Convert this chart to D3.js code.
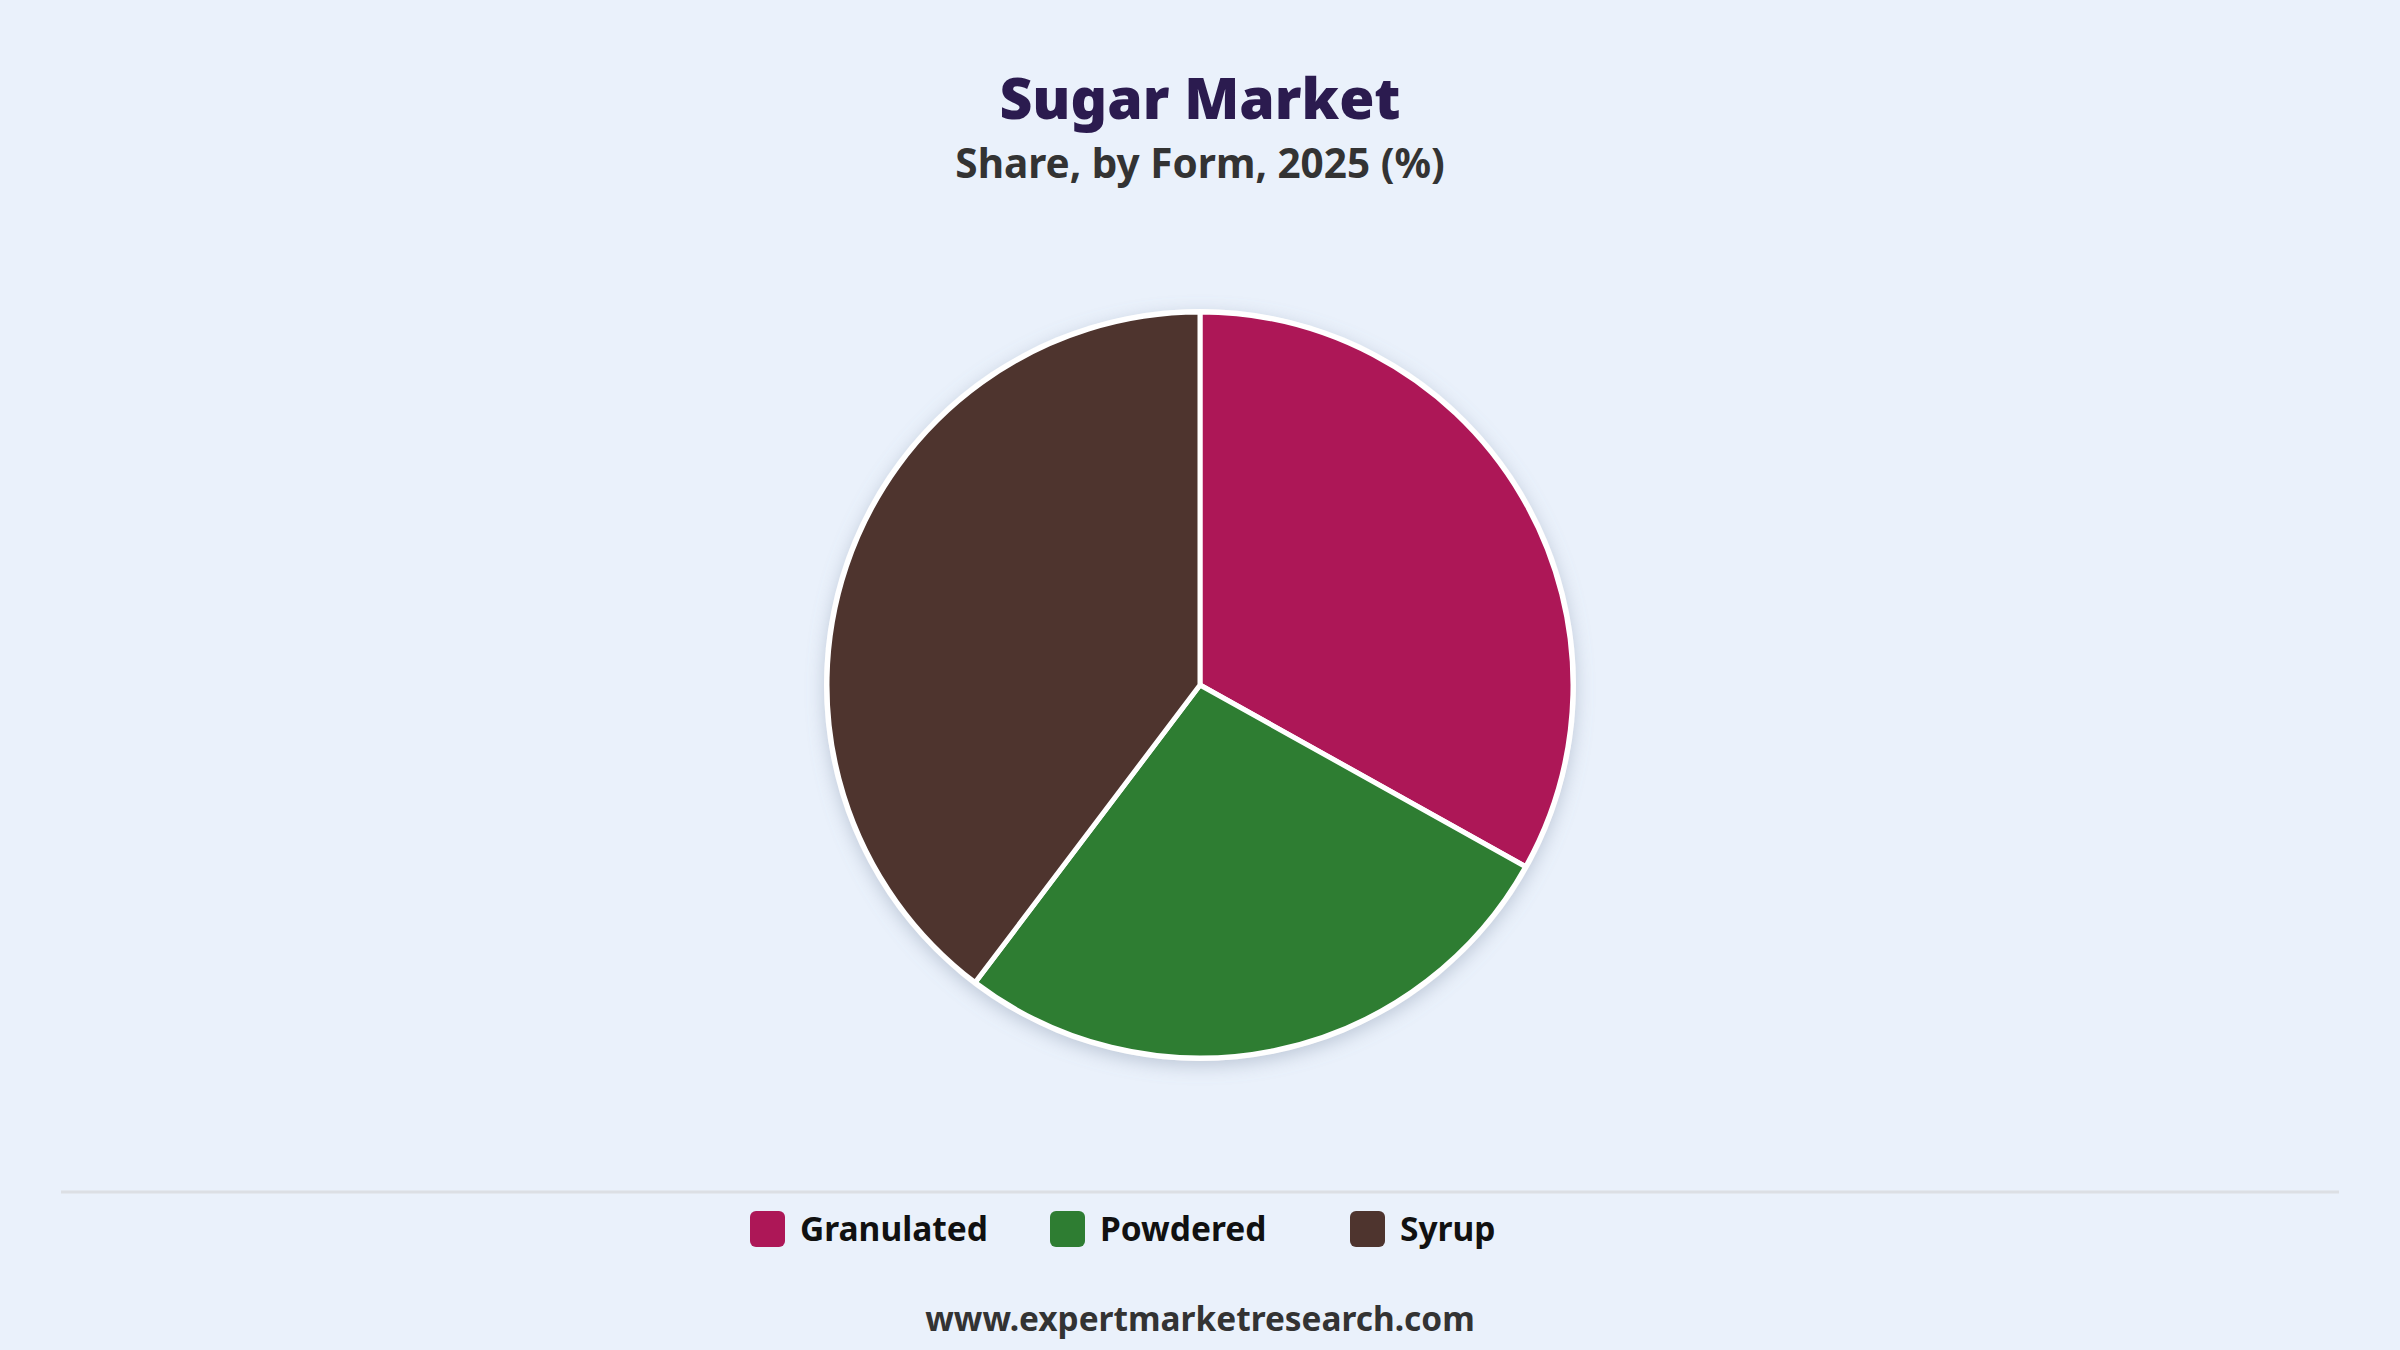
<!DOCTYPE html>
<html>
<head>
<meta charset="utf-8">
<script src="https://cdn.jsdelivr.net/npm/d3@7"></script>
<style>
  html, body { margin: 0; padding: 0; background: #EAF1FB; }
  svg { display: block; }
</style>
</head>
<body>
<svg id="chart" width="2400" height="1350"></svg>
<script>
const categories = ["Granulated", "Powdered", "Syrup"];
const values = [33.1, 27.2, 39.7];
const colors = ["#AD1757", "#2E7D32", "#4E342E"];
const titleText = "Sugar Market";
const subtitleText = "Share, by Form, 2025 (%)";
const footerText = "www.expertmarketresearch.com";

const W = 2400, H = 1350;
const svg = d3.select("#chart");
svg.append("rect").attr("width", W).attr("height", H).attr("fill", "#EAF1FB");

const defs = svg.append("defs");
const f = defs.append("filter").attr("id", "shadow").attr("x", "-20%").attr("y", "-20%").attr("width", "140%").attr("height", "140%");
f.append("feDropShadow").attr("dx", 0).attr("dy", 5).attr("stdDeviation", 9)
  .attr("flood-color", "#7a8aa3").attr("flood-opacity", 0.4);

const font = "'Noto Sans', 'Open Sans', sans-serif";

svg.append("text").attr("x", W / 2).attr("y", 119).attr("text-anchor", "middle")
  .attr("font-family", font).attr("font-weight", 900).attr("font-size", 57)
  .attr("fill", "#2B1B4F").text(titleText);
svg.append("text").attr("x", W / 2).attr("y", 178).attr("text-anchor", "middle")
  .attr("font-family", font).attr("font-weight", 700).attr("font-size", 40.5)
  .attr("fill", "#333333").text(subtitleText);

const cx = 1200, cy = 685, R = 373;
const pie = d3.pie().value(d => d.v).sort(null);
const arc = d3.arc().innerRadius(0).outerRadius(R);
const data = categories.map((c, i) => ({ c, v: values[i], col: colors[i] }));

const g = svg.append("g").attr("transform", `translate(${cx},${cy})`);
g.append("circle").attr("r", R + 3).attr("fill", "#ffffff").attr("filter", "url(#shadow)");
g.selectAll("path").data(pie(data)).join("path")
  .attr("d", arc).attr("fill", d => d.data.col)
  .attr("stroke", "#ffffff").attr("stroke-width", 5).attr("stroke-linejoin", "round");

svg.append("line").attr("x1", 61).attr("x2", 2339).attr("y1", 1192).attr("y2", 1192)
  .attr("stroke", "#DCDFE4").attr("stroke-width", 3);

const legendX = d3.scalePoint().domain(categories).range([750, 1350]);
const lg = svg.append("g").selectAll("g").data(data).join("g")
  .attr("transform", d => `translate(${legendX(d.c)},1229)`);
lg.append("rect").attr("x", 0).attr("y", -18).attr("width", 35).attr("height", 36).attr("rx", 6)
  .attr("fill", d => d.col);
lg.append("text").attr("x", 50).attr("y", 12)
  .attr("font-family", font).attr("font-weight", 700).attr("font-size", 33.5)
  .attr("fill", "#111111").text(d => d.c);

svg.append("text").attr("x", W / 2).attr("y", 1331).attr("text-anchor", "middle")
  .attr("font-family", font).attr("font-weight", 700).attr("font-size", 33.4)
  .attr("fill", "#333333").text(footerText);
</script>
</body>
</html>
